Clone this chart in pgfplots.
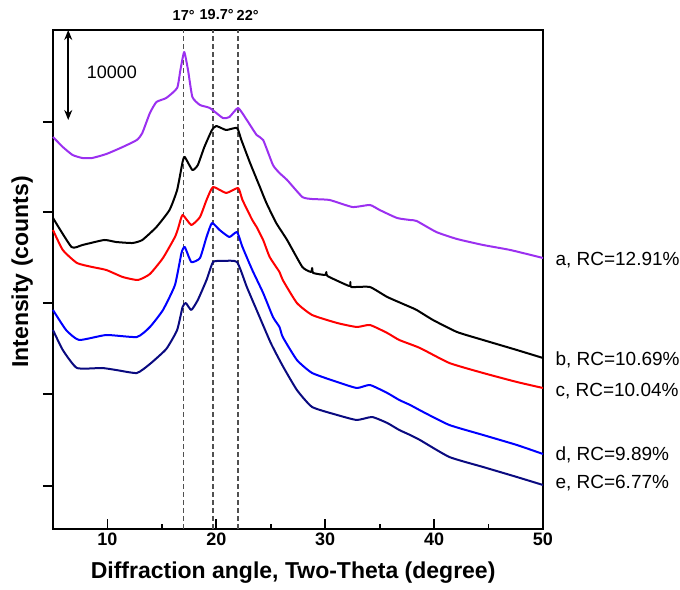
\documentclass[border=0pt]{standalone}
\usepackage{fontspec}
\setmainfont{Liberation Sans}
\usepackage{pgfplots}
\pgfplotsset{compat=1.18}
\usetikzlibrary{arrows.meta}
\definecolor{cA}{HTML}{9B30F0}
\definecolor{cB}{HTML}{000000}
\definecolor{cC}{HTML}{FF0000}
\definecolor{cD}{HTML}{0000FF}
\definecolor{cE}{HTML}{0A0A80}
\definecolor{guide}{HTML}{505050}

\begin{document}
\begin{tikzpicture}
\useasboundingbox (0,0) rectangle (680pt,589pt);
\begin{axis}[
    at={(53pt,60pt)}, anchor=south west,
    scale only axis, width=490pt, height=499pt,
    xmin=5, xmax=50, ymin=0, ymax=54890,
    clip=false,
    axis line style={line width=2.2pt},
    xtick={10,20,30,40,50}, minor xtick={15,25,35,45},
    ytick={4730,14850,24860,34870,44770}, yticklabels={},
    scaled y ticks=false,
    xtick pos=bottom, ytick pos=left,
    xtick align=inside, ytick align=outside,
    major tick length=10pt, minor tick length=5pt,
    tick style={black, line width=1.8pt},
    /pgf/number format/assume math mode=true,
    xticklabel style={font=\fontsize{18}{20}\selectfont\bfseries},
    xlabel={Diffraction angle, Two-Theta (degree)},
    ylabel={Intensity (counts)},
    label style={font=\fontsize{23}{26}\selectfont\bfseries},
    xlabel style={at={(axis description cs:0.49,-0.088)}, anchor=center},
    ylabel style={at={(axis description cs:-0.063,0.515)}, anchor=center},
    every axis plot/.append style={line width=2pt, line join=round, smooth, tension=0.3},
]

% guide lines at the peak positions
\addplot[guide, line width=1.4pt, dash pattern=on 5pt off 3pt, sharp plot] coordinates {(17,0)(17,54890)};
\addplot[guide, line width=1.4pt, dash pattern=on 5pt off 3pt, sharp plot] coordinates {(19.7,0)(19.7,54890)};
\addplot[guide, line width=1.4pt, dash pattern=on 5pt off 3pt, sharp plot] coordinates {(22,0)(22,54890)};

% a
\addplot[cA] coordinates {
(5.0,43120)(5.9,42020)(6.8,41140)(7.7,40810)(8.6,40810)(9.9,41250)
(11.4,42020)(12.7,42790)(13.2,43560)(13.9,45760)(14.5,46970)(15.4,47410)
(16.4,48510)(16.7,50490)(17.05,52470)(17.4,50490)(17.8,47520)(18.5,46640)
(19.4,46310)(20.6,45210)(21.2,45320)(22.0,46310)(22.8,44990)(23.7,43340)
(24.3,42790)(25.2,40040)(25.8,39160)(26.5,38390)(27.9,36520)(28.8,36300)
(30.4,36190)(32.5,35420)(34.1,35640)(35.0,35090)(36.6,34210)(37.8,33990)
(38.4,33880)(40.2,32670)(42.1,31900)(44.5,31240)(47.0,30690)(50.0,29810)
};

% b
\addplot[cB] coordinates {
(5.0,34210)(6.7,31020)(7.7,31240)(9.7,31790)(10.8,31570)(12.3,31460)
(13.2,31790)(14.5,33220)(15.7,35090)(16.4,37290)(16.9,40370)(17.1,40920)
(17.8,39490)(18.3,40040)(18.9,42020)(19.6,43890)(20.0,44330)(20.9,43890)
(21.9,44110)(22.3,42790)(23.1,40260)(24.0,37620)(24.6,35860)(25.5,33660)
(26.5,31790)(27.9,28820)(28.7,28270)(28.8,28710)(28.9,28160)(30.0,27940)
(30.1,28270)(30.2,27830)(32.2,26730)(32.3,27170)(32.4,26620)(34.1,26620)
(35.7,25520)(37.8,24420)(38.4,24090)(39.9,22990)(42.1,21670)(44.5,20790)
(47.6,19690)(50.0,18810)
};

% c
\addplot[cC] coordinates {
(5.0,32890)(5.9,30690)(7.2,29260)(8.6,28820)(9.9,28490)(11.4,27720)
(12.8,27390)(13.9,28050)(15.1,29810)(16.2,32120)(16.5,33110)(16.9,34540)
(17.7,33440)(18.5,34320)(19.1,36190)(19.7,37620)(20.9,36960)(22.0,37510)
(22.4,36190)(23.3,33990)(23.7,33220)(24.3,31790)(24.9,29920)(25.8,28270)
(26.1,27390)(27.4,24860)(28.8,23540)(31.1,22660)(32.9,22220)(34.1,22440)
(35.7,21560)(36.8,20790)(38.7,19910)(41.4,18260)(44.5,17160)(47.6,16170)
(50.0,15510)
};

% d
\addplot[cD] coordinates {
(5.0,24090)(6.2,21890)(7.4,20790)(9.9,21340)(12.7,21120)(13.9,22220)
(15.1,24090)(16.2,26840)(16.8,30360)(17.1,31020)(17.7,29370)(18.5,29810)
(19.1,32120)(19.6,33660)(20.3,32890)(21.2,32120)(21.9,32670)(22.4,31020)
(23.3,28490)(24.3,25960)(25.2,23320)(25.8,22220)(26.1,21120)(27.4,18590)
(28.8,17160)(31.1,16170)(32.9,15510)(34.1,15840)(35.7,14960)(36.8,14190)
(37.8,13640)(39.0,12870)(41.4,11440)(44.5,10340)(47.6,9240)(50.0,8250)
};

% e
\addplot[cE] coordinates {
(5.0,21890)(5.9,19690)(7.2,17710)(9.5,17710)(10.8,17490)(12.7,17160)
(13.9,18150)(15.4,19800)(16.4,21890)(16.9,24420)(17.2,24860)(17.7,24090)
(18.3,25190)(19.1,27390)(19.7,29370)(20.6,29480)(21.9,29370)(22.8,26620)
(23.7,24090)(25.0,20460)(26.1,17930)(27.4,15290)(28.8,13420)(31.1,12540)
(32.9,11990)(34.3,12320)(35.7,11660)(36.8,10890)(37.8,10340)(38.7,9790)
(41.4,7920)(44.5,6820)(47.6,5720)(50.0,4840)
};

% scale bar
\draw[line width=1.6pt, {Stealth[length=10pt,width=8pt]}-{Stealth[length=10pt,width=8pt]}]
    (axis cs:6.4,54890) -- (axis cs:6.4,44990);
\node[font=\fontsize{18}{20}\selectfont] at (axis cs:10.4,50270) {10000};

% peak labels
\node[font=\fontsize{14.5}{16}\selectfont\bfseries] at (axis cs:17,56540) {17°};
\node[font=\fontsize{14.5}{16}\selectfont\bfseries] at (axis cs:20.03,56540) {19.7°};
\node[font=\fontsize{14.5}{16}\selectfont\bfseries] at (axis cs:22.88,56540) {22°};

% sample labels
\node[anchor=west, xshift=9pt, font=\fontsize{19}{22}\selectfont] at (axis cs:50,29590) {a, RC=12.91\%};
\node[anchor=west, xshift=9pt, font=\fontsize{19}{22}\selectfont] at (axis cs:50,18590) {b, RC=10.69\%};
\node[anchor=west, xshift=9pt, font=\fontsize{19}{22}\selectfont] at (axis cs:50,15180) {c, RC=10.04\%};
\node[anchor=west, xshift=9pt, font=\fontsize{19}{22}\selectfont] at (axis cs:50,8140) {d, RC=9.89\%};
\node[anchor=west, xshift=9pt, font=\fontsize{19}{22}\selectfont] at (axis cs:50,5060) {e, RC=6.77\%};

\end{axis}
\end{tikzpicture}
\end{document}
